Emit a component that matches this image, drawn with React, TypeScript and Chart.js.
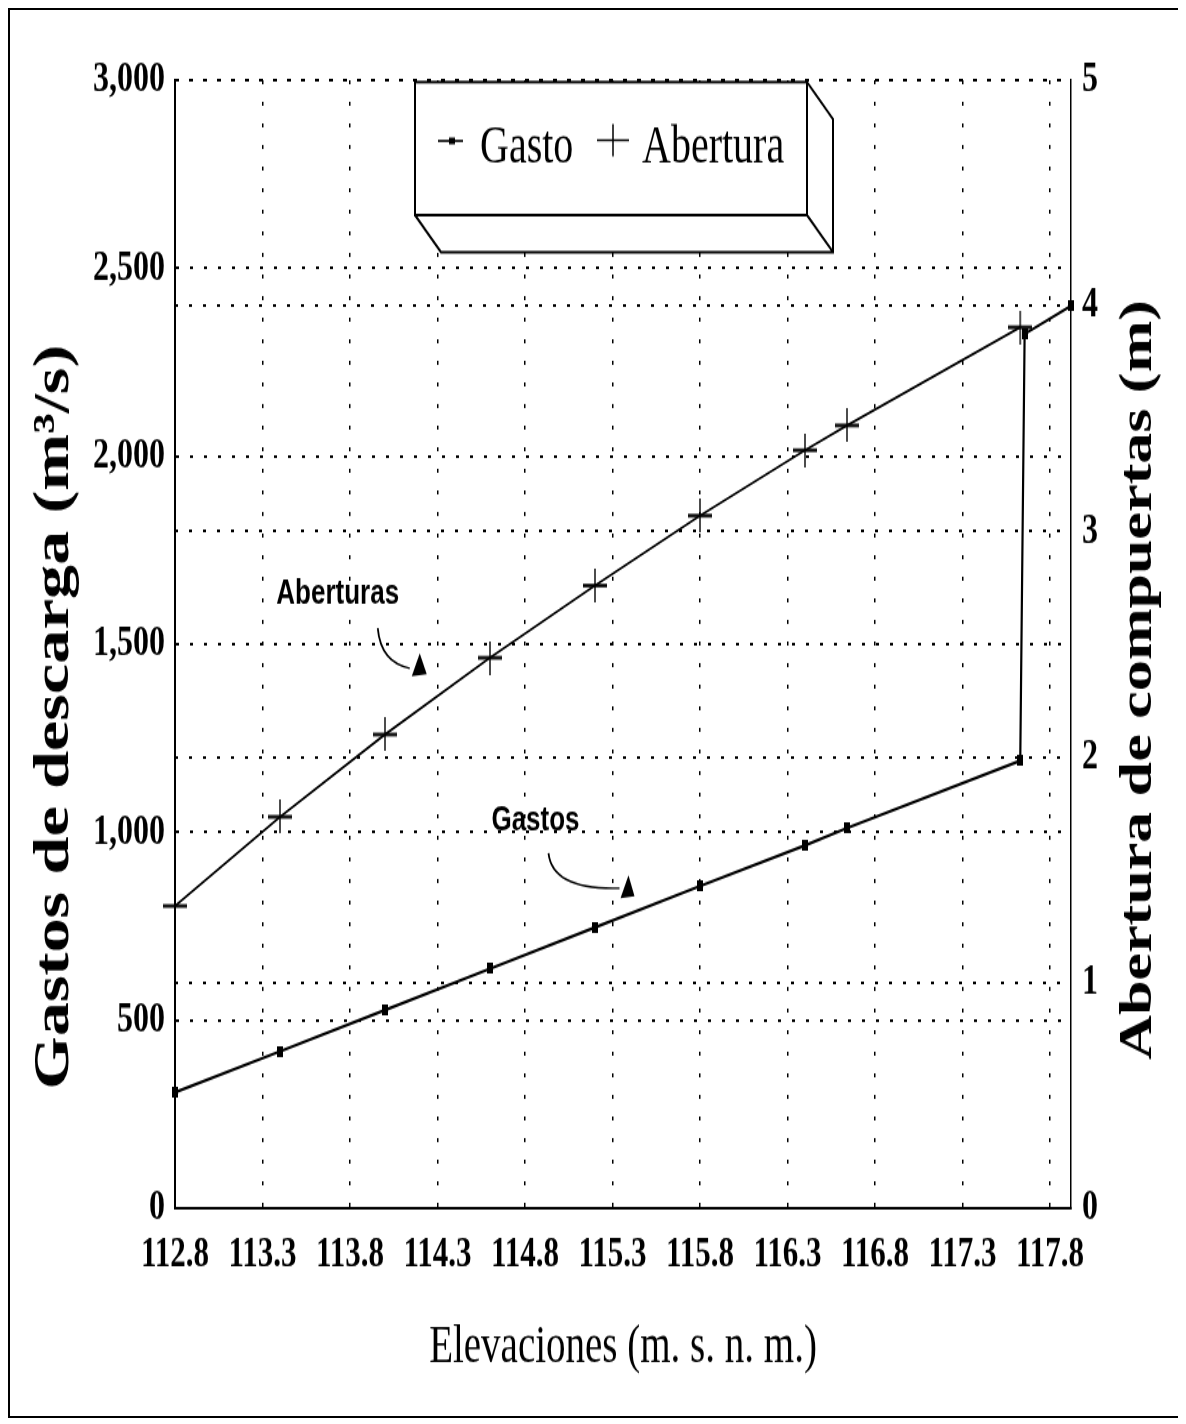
import React, { useEffect, useRef } from 'react';
import { Chart, registerables } from 'chart.js';

Chart.register(...registerables);

// ---------------- data ----------------
const X_TICKS = [112.8, 113.3, 113.8, 114.3, 114.8, 115.3, 115.8, 116.3, 116.8, 117.3, 117.8];
const X_MIN = 112.8;
const X_MAX = 117.92;

const GASTO_ELEV = [112.8, 113.4, 114.0, 114.6, 115.2, 115.8, 116.4, 116.64, 117.63, 117.655, 117.92];
const GASTO_Q = [308, 417, 527, 637, 747, 857, 965, 1011, 1190, 2325, 2400];

const ABERTURA_ELEV = [112.8, 113.4, 114.0, 114.6, 115.2, 115.8, 116.4, 116.64, 117.63];
const ABERTURA_M = [1.34, 1.735, 2.1, 2.44, 2.76, 3.07, 3.36, 3.47, 3.905];

const Q_MAX = 3000;
const Q_STEP = 500;
const A_MAX = 5;
const A_STEP = 1;

const SERIES = ['Gasto', 'Abertura'];
const X_TITLE = 'Elevaciones (m. s. n. m.)';
const Y_TITLE = 'Gastos de descarga (m³/s)';
const Y2_TITLE = 'Abertura de compuertas (m)';

const CALLOUT_TEXT = ['Aberturas', 'Gastos'];
const CALLOUT_ELEV = [113.73, 114.86];
const CALLOUT_Q = [1633, 1032];

// ---------------- layout ----------------
const W = 1169;
const H_CSS = 1406;
const H = 1042;
const K = H_CSS / H;

const decor = {
  id: 'decor',
  afterDraw(chart: any) {
    const { ctx, chartArea: ca, scales } = chart;
    ctx.save();
    ctx.fillStyle = '#000';
    ctx.strokeStyle = '#000';

    // rotated axis titles (both read bottom-to-top)
    const vTitle = (text: string, cx: number, cy: number, len: number) => {
      ctx.save();
      ctx.font = 'bold 50px "Liberation Serif"';
      const m = ctx.measureText(text).width;
      const size = (50 * len) / m;
      ctx.font = `bold ${size}px "Liberation Serif"`;
      ctx.translate(cx, cy);
      ctx.rotate(-Math.PI / 2);
      ctx.textAlign = 'center';
      ctx.textBaseline = 'middle';
      ctx.fillText(text, 0, 0);
      ctx.restore();
    };
    vTitle(Y_TITLE, ca.left - 120, 524, 552);
    vTitle(Y2_TITLE, ca.right + 68, 496.5, 563);

    // 3D legend box
    const lx = ca.left + 240;
    const ly = ca.top + 1.4;
    const lw = 392;
    const lh = 98.6;
    const dx = 26;
    const dy = 27.4;
    ctx.lineWidth = 2;
    ctx.fillStyle = '#fff';
    ctx.fillRect(lx, ly, lw, lh);
    ctx.beginPath();
    ctx.moveTo(lx, ly + lh);
    ctx.lineTo(lx + dx, ly + lh + dy);
    ctx.lineTo(lx + lw + dx, ly + lh + dy);
    ctx.lineTo(lx + lw + dx, ly + dy);
    ctx.lineTo(lx + lw, ly);
    ctx.closePath();
    ctx.fill();
    ctx.fillStyle = '#000';
    ctx.strokeRect(lx, ly, lw, lh);
    ctx.beginPath();
    ctx.moveTo(lx, ly + lh);
    ctx.lineTo(lx + dx, ly + lh + dy);
    ctx.lineTo(lx + lw + dx, ly + lh + dy);
    ctx.lineTo(lx + lw + dx, ly + dy);
    ctx.lineTo(lx + lw, ly);
    ctx.moveTo(lx + lw, ly + lh);
    ctx.lineTo(lx + lw + dx, ly + lh + dy);
    ctx.stroke();

    // legend entries
    const names = chart.data.datasets.map((d: any) => d.label);
    ctx.lineWidth = 1.6;
    ctx.beginPath();
    ctx.moveTo(lx + 23, ly + 43.6);
    ctx.lineTo(lx + 48, ly + 43.6);
    ctx.stroke();
    ctx.fillRect(lx + 34, ly + 41.1, 6, 5);
    ctx.font = '40px "Liberation Serif"';
    ctx.textAlign = 'left';
    ctx.textBaseline = 'alphabetic';
    ctx.fillText(names[0], lx + 65, ly + 60);
    ctx.lineWidth = 1.5;
    ctx.beginPath();
    ctx.moveTo(lx + 182, ly + 43);
    ctx.lineTo(lx + 214, ly + 43);
    ctx.moveTo(lx + 198, ly + 31);
    ctx.lineTo(lx + 198, ly + 55);
    ctx.stroke();
    ctx.fillText(names[1], lx + 227, ly + 60);

    // callouts with curved arrows
    const arrows = [
      { start: [40, 34], ctrl: [43, 68], end: [72, 74], tip: [[82, 59], [74, 82], [89, 80]] },
      { start: [13, 33], ctrl: [17, 70], end: [84, 68], tip: [[93, 55], [85, 78], [99, 76]] },
    ];
    CALLOUT_TEXT.forEach((t, i) => {
      const cx = scales.x.getPixelForValue(CALLOUT_ELEV[i]);
      const cy = scales.y.getPixelForValue(CALLOUT_Q[i]);
      ctx.font = 'bold 26px "Liberation Sans"';
      ctx.textAlign = 'center';
      ctx.textBaseline = 'middle';
      ctx.fillText(t, cx, cy);
      const a = arrows[i];
      ctx.save();
      ctx.translate(cx, cy);
      ctx.scale(1, 1 / K);
      ctx.lineWidth = 1.8;
      ctx.beginPath();
      ctx.moveTo(a.start[0], a.start[1]);
      ctx.quadraticCurveTo(a.ctrl[0], a.ctrl[1], a.end[0], a.end[1]);
      ctx.stroke();
      ctx.beginPath();
      ctx.moveTo(a.tip[0][0], a.tip[0][1]);
      ctx.lineTo(a.tip[1][0], a.tip[1][1]);
      ctx.lineTo(a.tip[2][0], a.tip[2][1]);
      ctx.closePath();
      ctx.fill();
      ctx.restore();
    });

    ctx.restore();
  },
};

export default function App() {
  const ref = useRef<HTMLCanvasElement>(null);

  useEffect(() => {
    const canvas = ref.current;
    if (!canvas) return;

    const gastoMark = document.createElement('canvas');
    gastoMark.width = 6;
    gastoMark.height = 8;
    const g = gastoMark.getContext('2d')!;
    g.fillStyle = '#000';
    g.fillRect(0, 0, 6, 8);

    const plusMark = document.createElement('canvas');
    plusMark.width = 24;
    plusMark.height = 25;
    const p = plusMark.getContext('2d')!;
    p.fillStyle = '#000';
    p.fillRect(0, 11.2, 24, 2.6);
    p.fillRect(11.3, 0, 1.4, 25);

    const tickFont = { family: 'Liberation Serif', weight: 'bold' as const, size: 32 };

    const chart = new Chart(canvas, {
      type: 'line',
      data: {
        datasets: [
          {
            label: SERIES[0],
            data: GASTO_ELEV.map((x, i) => ({ x, y: GASTO_Q[i] })),
            yAxisID: 'y',
            borderColor: '#000',
            backgroundColor: '#000',
            borderWidth: 2.2,
            pointStyle: gastoMark as any,
            pointRadius: 5,
            clip: false as any,
            tension: 0,
          },
          {
            label: SERIES[1],
            data: ABERTURA_ELEV.map((x, i) => ({ x, y: ABERTURA_M[i] })),
            yAxisID: 'y2',
            borderColor: '#000',
            backgroundColor: '#000',
            borderWidth: 1.8,
            pointStyle: plusMark as any,
            pointRadius: 12,
            clip: false as any,
            tension: 0,
          },
        ],
      },
      options: {
        animation: false,
        responsive: false,
        devicePixelRatio: 1,
        layout: { padding: { top: 52, left: 0, right: 0, bottom: 0 } },
        plugins: { legend: { display: false }, tooltip: { enabled: false } },
        scales: {
          x: {
            type: 'linear',
            min: X_MIN,
            max: X_MAX,
            afterBuildTicks: (s: any) => {
              s.ticks = X_TICKS.map((v) => ({ value: v }));
            },
            afterFit: (s: any) => {
              s.height = H - 888;
            },
            ticks: {
              callback: (v: any) => Number(v).toFixed(1),
              font: { family: 'Liberation Serif', weight: 'bold', size: 31 },
              color: '#000',
              padding: 16,
              autoSkip: false,
              maxRotation: 0,
            },
            grid: { color: '#000', lineWidth: 1.5, drawTicks: false },
            border: { display: true, color: '#000', width: 2, dash: [3, 13] },
            title: {
              display: true,
              text: X_TITLE,
              color: '#000',
              font: { family: 'Liberation Serif', size: 39 },
              padding: { top: 0, bottom: 27 },
            },
          },
          y: {
            position: 'left',
            min: 0,
            max: Q_MAX,
            afterFit: (s: any) => {
              s.width = 165;
            },
            ticks: {
              stepSize: Q_STEP,
              callback: (v: any) => Number(v).toLocaleString('en-US'),
              font: tickFont,
              color: '#000',
              padding: 10,
            },
            grid: { color: '#000', lineWidth: 2, drawTicks: false },
            border: { display: true, color: '#000', width: 2, dash: [3, 11] },
          },
          y2: {
            position: 'right',
            min: 0,
            max: A_MAX,
            afterFit: (s: any) => {
              s.width = W - 1061;
            },
            ticks: { stepSize: A_STEP, font: tickFont, color: '#000', padding: 11 },
            grid: { color: '#000', lineWidth: 2, drawTicks: false },
            border: { display: true, color: '#000', width: 1.5, dash: [3, 11] },
          },
        },
      },
      plugins: [decor],
    } as any);

    return () => chart.destroy();
  }, []);

  return (
    <div style={{ width: W, height: H_CSS, border: '2px solid #000', background: '#fff' }}>
      <canvas
        ref={ref}
        width={W}
        height={H}
        style={{ width: W + 'px', height: H_CSS + 'px', display: 'block' }}
      />
    </div>
  );
}
